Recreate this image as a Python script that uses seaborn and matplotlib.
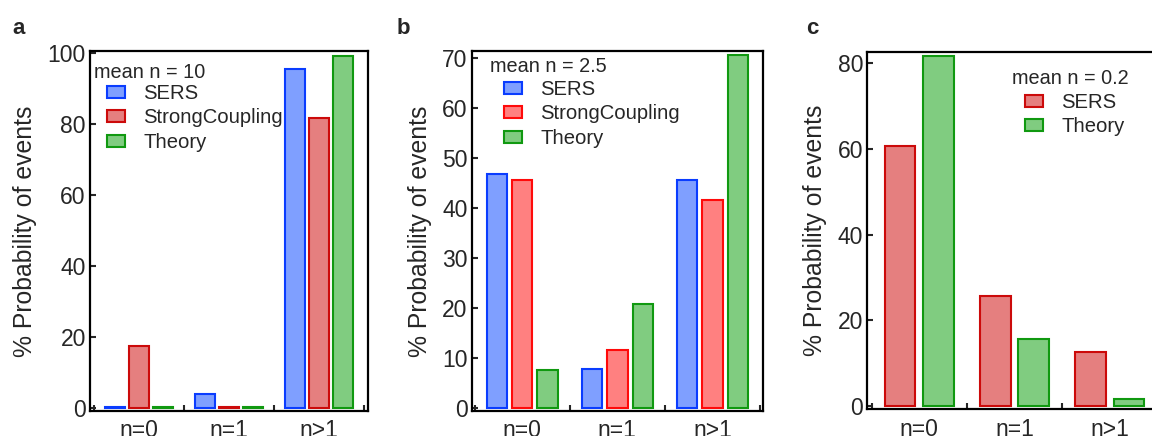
import matplotlib
matplotlib.use("Agg")
import matplotlib.pyplot as plt
import seaborn as sns
import pandas as pd
from matplotlib.patches import Patch

# ---------------- data ----------------
categories = ["n=0", "n=1", "n>1"]

a_series = ["SERS", "StrongCoupling", "Theory"]
a_sers = [0.4, 3.8, 95.5]
a_strong = [17.6, 0.4, 81.6]
a_theory = [0.4, 0.4, 99.3]

b_series = ["SERS", "StrongCoupling", "Theory"]
b_sers = [46.9, 7.8, 45.7]
b_strong = [45.7, 11.7, 41.7]
b_theory = [7.7, 20.9, 70.6]

c_series = ["SERS", "Theory"]
c_sers = [60.8, 25.7, 12.7]
c_theory = [81.6, 15.6, 1.6]

a_title = "mean n = 10"
b_title = "mean n = 2.5"
c_title = "mean n = 0.2"

# ---------------- style ----------------
sns.set_theme(style="white")
plt.rcParams["font.family"] = ["Liberation Sans", "DejaVu Sans"]

W, H = 1152, 436
fig = plt.figure(figsize=(W / 100, H / 100), dpi=100)

def fx(px):
    return px / W

def fy(py):
    return 1 - py / H

def long_df(series_names, values):
    rows = []
    for name, vals in zip(series_names, values):
        for cat, v in zip(categories, vals):
            rows.append({"cat": cat, "val": v, "series": name})
    return pd.DataFrame(rows)

def panel(rect, series_names, values, fills, edges, ylim, yticks, xlim,
          title, title_xy, leg_xy, letter, letter_x, ylabel_x):
    ax = fig.add_axes(rect)
    df = long_df(series_names, values)
    sns.barplot(data=df, x="cat", y="val", hue="series", order=categories,
                hue_order=series_names, palette=fills, saturation=1,
                width=0.8, gap=0.2, legend=False, ax=ax, linewidth=1.5)
    for cont, ec in zip(ax.containers, edges):
        for p in cont:
            p.set_edgecolor(ec)
            p.set_linewidth(1.5)
    ax.set_ylim(*ylim)
    ax.set_xlim(*xlim)
    ax.set_yticks(yticks)
    ax.set_xticks(range(len(categories)))
    ax.set_xticklabels(categories)
    ax.set_xticks([-0.5, 0.5, 1.5, 2.5], minor=True)
    ax.tick_params(axis="x", which="major", length=0, pad=6, labelsize=16.5)
    ax.tick_params(axis="x", which="minor", direction="in", length=4,
                   width=1.5, bottom=True)
    ax.tick_params(axis="y", which="major", direction="in", length=4,
                   width=1.5, left=True, pad=3, labelsize=16.5)
    ax.set_xlabel("")
    ax.set_ylabel("% Probability of events", fontsize=17.8)
    ax.yaxis.set_label_coords(ylabel_x, 0.5)
    for s in ax.spines.values():
        s.set_linewidth(1.6)
        s.set_color("black")
    handles = [Patch(facecolor=f, edgecolor=e, linewidth=1.5)
               for f, e in zip(fills, edges)]
    ax.legend(handles, series_names, loc="upper left",
              bbox_to_anchor=(fx(leg_xy[0]), fy(leg_xy[1])),
              bbox_transform=fig.transFigure, frameon=False, fontsize=14.6,
              borderpad=0, borderaxespad=0, handlelength=0.9,
              handleheight=0.55, handletextpad=0.9, labelspacing=0.27)
    fig.text(fx(title_xy[0]), fy(title_xy[1]), title, fontsize=14.3,
             ha="left", va="center")
    fig.text(fx(letter_x), fy(28), letter, fontsize=16, fontweight="bold",
             ha="left", va="center")
    return ax

blue_f, blue_e = "#7F9FFF", "#0A3CFF"
red_f, red_e = "#E57F7F", "#CC0A0A"
red2_f, red2_e = "#FF8080", "#FF0A0A"
green_f, green_e = "#80CC80", "#109910"

panel([fx(90), fy(411), fx(368) - fx(90), fy(51) - fy(411)],
      a_series, [a_sers, a_strong, a_theory],
      [blue_f, red_f, green_f], [blue_e, red_e, green_e],
      (-0.85, 100.6), [0, 20, 40, 60, 80, 100], (-0.544, 2.544),
      a_title, (94, 72), (107, 84), "a", 12, -0.19)

panel([fx(471.7), fy(411), fx(763) - fx(471.7), fy(50.7) - fy(411)],
      b_series, [b_sers, b_strong, b_theory],
      [blue_f, red2_f, green_f], [blue_e, red2_e, green_e],
      (-0.53, 71.5), [0, 10, 20, 30, 40, 50, 60, 70], (-0.53, 2.53),
      b_title, (490, 67), (504, 80), "b", 397, -0.137)

panel([fx(867.3), fy(409.3), fx(1161.7) - fx(867.3), fy(51.7) - fy(409.3)],
      c_series, [c_sers, c_theory],
      [red_f, green_f], [red_e, green_e],
      (-0.77, 82.7), [0, 20, 40, 60, 80], (-0.545, 2.545),
      c_title, (1011.7, 79), (1025, 93), "c", 806, -0.137)

fig.savefig("out.png", dpi=100)
